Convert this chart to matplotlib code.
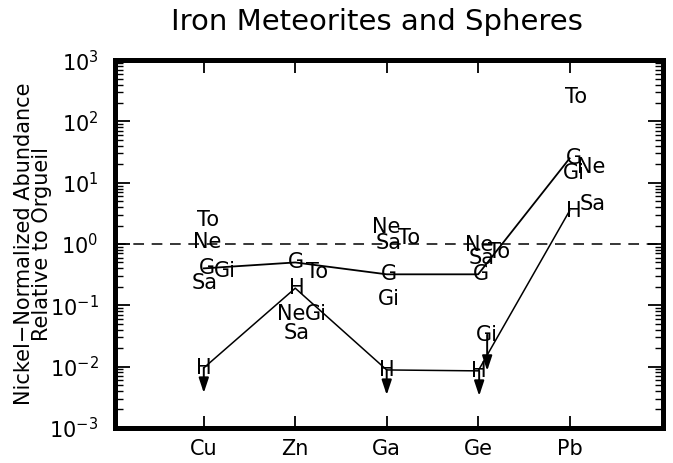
import matplotlib
matplotlib.use("Agg")
import matplotlib.pyplot as plt
from matplotlib.transforms import offset_copy
from matplotlib.ticker import LogLocator, NullFormatter

# ---- data ----
elements = ["Cu", "Zn", "Ga", "Ge", "Pb"]
G_vals = [0.40, 0.50, 0.32, 0.32, 25.0]          # connected line
H_vals = [0.0095, 0.19, 0.0088, 0.0085, 3.5]      # connected line
H_upper = [True, False, True, True, False]        # upper limits (arrows)
To_vals = [2.5, 0.35, 1.25, 0.74, 250.0]
Ne_vals = [1.08, 0.071, 1.9, 0.96, 18.0]
Gi_vals = [0.36, 0.071, 0.125, 0.033, 14.5]
Gi_upper = [False, False, False, True, False]
Sa_vals = [0.23, 0.035, 1.05, 0.59, 4.5]
ref_level = 1.0

# ---- styling: horizontal label offsets in pixels ----
dx = {
    "G":  [3, 1, 2, 3, 4],
    "H":  [0, 2, 0, 1, 4],
    "To": [4, 22, 22, 21, 6],
    "Ne": [3, -4, -1, 1, 22],
    "Gi": [21, 21, 2, 9, 4],
    "Sa": [1, 1, 2, 3, 23],
}

DPI = 100
fig = plt.figure(figsize=(6.73, 4.63), dpi=DPI)
ax = fig.add_axes([0.171, 0.076, 0.814, 0.794])

x = list(range(1, len(elements) + 1))
ax.set_yscale("log")
ax.set_xlim(0.03, 6.02)
ax.set_ylim(1e-3, 1e3)

# reference line
ax.axhline(ref_level, color="k", lw=1.1, ls=(0, (7, 5)))

# connected series
ax.plot(x, G_vals, color="k", lw=1.3)
ax.plot(x, H_vals, color="k", lw=1.1)

def label(vals, name, fs=15):
    for i, v in enumerate(vals):
        tr = offset_copy(ax.transData, fig=fig, x=dx[name][i], y=0, units="dots")
        ax.text(x[i], v, name, transform=tr, ha="center", va="center",
                fontsize=fs, color="k")

label(G_vals, "G")
label(H_vals, "H")
label(To_vals, "To")
label(Ne_vals, "Ne")
label(Gi_vals, "Gi")
label(Sa_vals, "Sa")

def arrows(vals, flags, name, length):
    for i, (v, f) in enumerate(zip(vals, flags)):
        if not f:
            continue
        start = offset_copy(ax.transData, fig=fig, x=dx[name][i], y=0, units="dots")
        tip = offset_copy(ax.transData, fig=fig, x=dx[name][i], y=-length, units="dots")
        ax.annotate("", xy=(x[i], v), xycoords=tip, xytext=(x[i], v), textcoords=start,
                    arrowprops=dict(arrowstyle="-|>,head_length=0.9,head_width=0.3",
                                    color="k", lw=1.4, shrinkA=0, shrinkB=0,
                                    mutation_scale=10))

arrows(H_vals, H_upper, "H", 25)
arrows(Gi_vals, Gi_upper, "Gi", 36)

# axes styling
ax.set_xticks(x)
ax.set_xticklabels(elements, fontsize=15)
ax.yaxis.set_major_locator(LogLocator(base=10, numticks=10))
ax.yaxis.set_minor_locator(LogLocator(base=10, subs=range(2, 10), numticks=20))
ax.yaxis.set_minor_formatter(NullFormatter())
ax.tick_params(axis="y", which="major", labelsize=15, direction="in",
               length=11, width=1.3, left=True, right=True, pad=12)
ax.tick_params(axis="y", which="minor", direction="in", length=6, width=1.0,
               left=True, right=True)
ax.tick_params(axis="x", which="major", direction="in", length=9, width=1.3,
               top=True, bottom=True, pad=8)
ax.tick_params(axis="x", which="minor", bottom=False, top=False)
for s in ax.spines.values():
    s.set_linewidth(3.6)

ax.set_ylabel("Nickel\u2212Normalized Abundance\nRelative to Orgueil", fontsize=15,
              linespacing=0.85)
ax.yaxis.set_label_coords(-0.115, 0.5)
fig.text(0.56, 0.952, "Iron Meteorites and Spheres", ha="center", va="center",
         fontsize=21)

fig.savefig("out.png", dpi=DPI)
